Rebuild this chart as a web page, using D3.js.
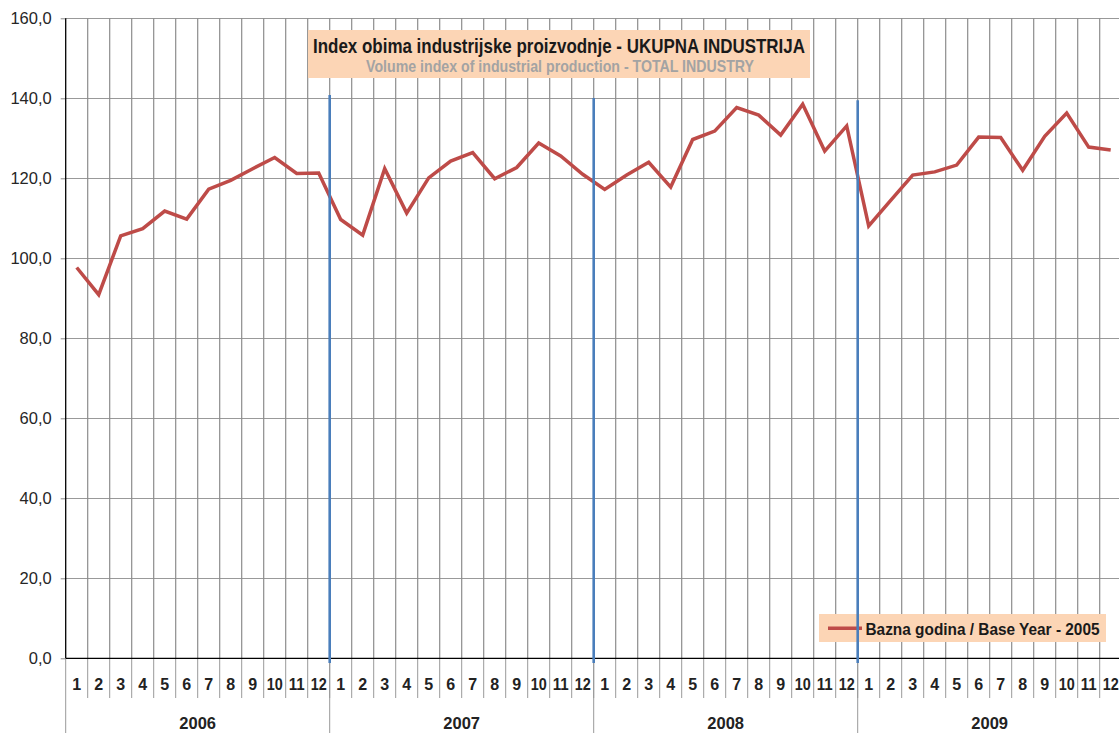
<!DOCTYPE html>
<html>
<head>
<meta charset="utf-8">
<script src="https://cdn.jsdelivr.net/npm/d3@7"></script>
<style>
  html, body { margin: 0; padding: 0; background: #fff; overflow: hidden; }
  text { font-family: Arial, "Liberation Sans", sans-serif; }
</style>
</head>
<body>
<svg id="chart" width="1119" height="733"></svg>
<script>
// data
var years = ["2006", "2007", "2008", "2009"];
var months = ["1", "2", "3", "4", "5", "6", "7", "8", "9", "10", "11", "12"];
var values = [
  97.7, 90.9, 105.6, 107.4, 111.8, 109.8, 117.3, 119.5, 122.4, 125.2, 121.2, 121.3,
  109.7, 105.8, 122.4, 111.3, 120.1, 124.3, 126.4, 119.9, 122.7, 128.8, 125.6, 121.0,
  117.2, 120.8, 124.0, 117.8, 129.7, 131.8, 137.7, 135.8, 130.8, 138.5, 126.8, 133.1,
  108.1, 114.5, 120.8, 121.6, 123.3, 130.3, 130.2, 122.0, 130.5, 136.3, 127.8, 127.1
];
var yTicks = [0, 20, 40, 60, 80, 100, 120, 140, 160];
// year-boundary marker lines: category index where they sit, and their top value
var markerIdx = [12, 24, 36];
var markerTop = [140.8, 140.1, 139.5];
var titleMain = "Index obima industrijske proizvodnje - UKUPNA INDUSTRIJA";
var titleSub = "Volume index of industrial production - TOTAL INDUSTRY";
var legendLabel = "Bazna godina / Base Year - 2005";

var cats = [];
years.forEach(function (yr) {
  months.forEach(function (m) { cats.push(yr + "-" + m); });
});

var svg = d3.select("#chart");
var x0 = 65.7, x1 = 1121.7, yTop = 18.3, yBot = 658.3;

var x = d3.scaleBand().domain(cats).range([x0, x1]).padding(0);
var y = d3.scaleLinear().domain([0, 160]).range([yBot, yTop]);
var boundary = function (i) { return x0 + i * x.bandwidth(); };

// horizontal grid
svg.append("g").attr("class", "hgrid")
  .selectAll("line").data(yTicks).join("line")
    .attr("x1", x0).attr("x2", x1)
    .attr("y1", function (d) { return Math.round(y(d)) + 0.5; })
    .attr("y2", function (d) { return Math.round(y(d)) + 0.5; })
    .attr("stroke", "#999").attr("stroke-width", 1);

// vertical grid at category boundaries
svg.append("g").attr("class", "vgrid")
  .selectAll("line").data(d3.range(1, cats.length + 1)).join("line")
    .attr("x1", boundary).attr("x2", boundary)
    .attr("y1", yTop).attr("y2", yBot)
    .attr("stroke", "#8c8c8c").attr("stroke-width", 1.2);

// y axis
var yAxis = d3.axisLeft(y).tickValues(yTicks).tickSize(5).tickPadding(9)
  .tickFormat(function (d) { return d3.format(".1f")(d).replace(".", ","); });
var ya = svg.append("g").attr("transform", "translate(" + x0 + ",0)").call(yAxis);
ya.select(".domain").remove();
ya.selectAll(".tick line").attr("stroke", "#888");
ya.selectAll(".tick text").attr("font-size", 16.5).attr("fill", "#262626")
  .attr("font-family", "Arial, 'Liberation Sans', sans-serif");
svg.append("line").attr("x1", x0).attr("x2", x0).attr("y1", yTop).attr("y2", yBot)
  .attr("stroke", "#000").attr("stroke-width", 1.3);

// bottom category axis: months and years
var xa = svg.append("g").attr("class", "xaxis");
xa.selectAll("line.msep").data(d3.range(1, cats.length)).join("line")
  .attr("class", "msep")
  .attr("x1", boundary).attr("x2", boundary)
  .attr("y1", yBot).attr("y2", 698)
  .attr("stroke", "#999").attr("stroke-width", 1);
xa.selectAll("line.ysep").data(d3.range(0, years.length + 1)).join("line")
  .attr("class", "ysep")
  .attr("x1", function (i) { return boundary(i * 12); })
  .attr("x2", function (i) { return boundary(i * 12); })
  .attr("y1", yBot).attr("y2", 733)
  .attr("stroke", "#999").attr("stroke-width", 1);
xa.selectAll("text.month").data(cats).join("text")
  .attr("class", "month")
  .attr("x", function (d) { return x(d) + x.bandwidth() / 2; })
  .attr("y", 689.5)
  .attr("text-anchor", "middle")
  .attr("font-size", 16).attr("font-weight", "bold").attr("fill", "#222")
  .attr("textLength", function (d) { return d.split("-")[1].length > 1 ? 16 : null; })
  .attr("lengthAdjust", "spacingAndGlyphs")
  .text(function (d) { return d.split("-")[1]; });
xa.selectAll("text.year").data(years).join("text")
  .attr("class", "year")
  .attr("x", function (d, i) { return (boundary(i * 12) + boundary(i * 12 + 12)) / 2; })
  .attr("y", 729)
  .attr("text-anchor", "middle")
  .attr("font-size", 16.5).attr("font-weight", "bold").attr("fill", "#222")
  .text(function (d) { return d; });
svg.append("line").attr("x1", x0).attr("x2", x1).attr("y1", yBot).attr("y2", yBot)
  .attr("stroke", "#000").attr("stroke-width", 1.3);

// title box
var tb = svg.append("g").attr("class", "title");
tb.append("rect").attr("x", 308).attr("y", 30).attr("width", 502).attr("height", 48)
  .attr("fill", "#FCD5B5");
tb.append("text").attr("x", 559).attr("y", 52.5).attr("text-anchor", "middle")
  .attr("font-size", 20.5).attr("font-weight", "bold").attr("fill", "#1a1a1a")
  .attr("textLength", 492).attr("lengthAdjust", "spacingAndGlyphs")
  .text(titleMain);
tb.append("text").attr("x", 560).attr("y", 71.5).attr("text-anchor", "middle")
  .attr("font-size", 16.5).attr("font-weight", "bold").attr("fill", "#a3a3a3")
  .attr("textLength", 388).attr("lengthAdjust", "spacingAndGlyphs")
  .text(titleSub);

// legend
var lg = svg.append("g").attr("class", "legend");
lg.append("rect").attr("x", 819).attr("y", 614).attr("width", 287).attr("height", 28)
  .attr("fill", "#FCD5B5");
lg.append("line").attr("x1", 828).attr("x2", 862).attr("y1", 628.3).attr("y2", 628.3)
  .attr("stroke", "#BE4B48").attr("stroke-width", 3.5);
lg.append("text").attr("x", 865.5).attr("y", 634.5)
  .attr("font-size", 16.5).attr("font-weight", "bold").attr("fill", "#1a1a1a")
  .attr("textLength", 234).attr("lengthAdjust", "spacingAndGlyphs")
  .text(legendLabel);

// data line
var line = d3.line()
  .x(function (d, i) { return x(cats[i]) + x.bandwidth() / 2; })
  .y(function (d) { return y(d); });
svg.append("path").datum(values)
  .attr("d", line)
  .attr("fill", "none")
  .attr("stroke", "#BE4B48")
  .attr("stroke-width", 3.5)
  .attr("stroke-linejoin", "miter");

// year-boundary markers
svg.append("g").attr("class", "markers")
  .selectAll("line").data(markerIdx).join("line")
    .attr("x1", function (d) { return boundary(d); })
    .attr("x2", function (d) { return boundary(d); })
    .attr("y1", function (d, i) { return y(markerTop[i]); })
    .attr("y2", y(-1.2))
    .attr("stroke", "#4A7EBB").attr("stroke-width", 2.6);
</script>
</body>
</html>
